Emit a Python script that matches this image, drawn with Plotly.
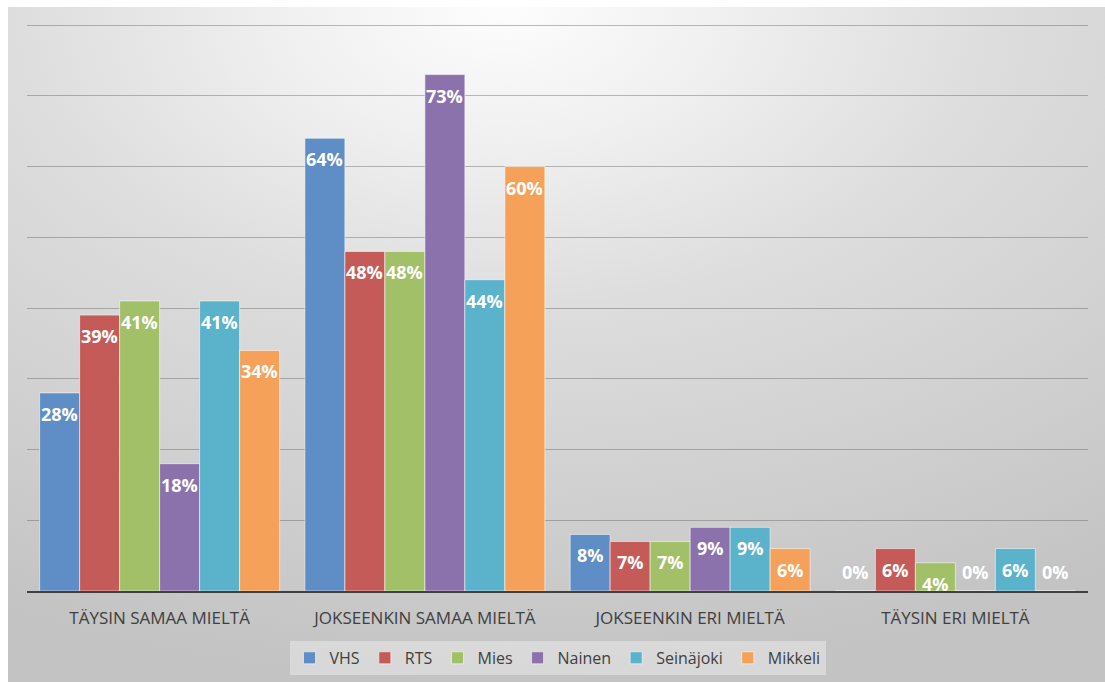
import base64
import plotly.graph_objects as go

# Survey answer categories (x axis) and respondent groups (series)
categories = ["TÄYSIN SAMAA MIELTÄ", "JOKSEENKIN SAMAA MIELTÄ",
              "JOKSEENKIN ERI MIELTÄ", "TÄYSIN ERI MIELTÄ"]
groups = ["VHS", "RTS", "Mies", "Nainen", "Seinäjoki", "Mikkeli"]

vhs = [28, 64, 8, 0]
rts = [39, 48, 7, 6]
mies = [41, 48, 7, 4]
nainen = [18, 73, 9, 0]
seinajoki = [41, 44, 9, 6]
mikkeli = [34, 60, 6, 0]

series = [vhs, rts, mies, nainen, seinajoki, mikkeli]
colors = ["#5f8dc5", "#c55b59", "#a2c068", "#8c72ac", "#5bb2cb", "#f5a15a"]

BAR_W = 0.1508  # width of one bar in category units; bars in a group touch

fig = go.Figure()
annotations = []
for j, (name, vals, col) in enumerate(zip(groups, series, colors)):
    xs = [i + (j - 2.5) * BAR_W for i in range(len(categories))]
    fig.add_trace(go.Bar(
        x=xs, y=vals, width=BAR_W, name=name,
        marker=dict(color=col, line=dict(color="rgba(255,255,255,0.55)", width=1)),
        hoverinfo="skip",
    ))
    for x, v in zip(xs, vals):
        annotations.append(dict(
            x=x, y=v, xref="x", yref="y", text=f"{v}%", showarrow=False,
            yanchor="middle", yshift=-21 if v > 0 else 19,
            font=dict(family="Open Sans", size=18, color="white", weight="bold"),
        ))

# Soft radial background behind the whole chart
svg = (
    '<svg xmlns="http://www.w3.org/2000/svg" width="1097" height="675" '
    'preserveAspectRatio="none"><defs>'
    '<radialGradient id="g" cx="0.45" cy="0" r="1" gradientUnits="objectBoundingBox">'
    '<stop offset="0" stop-color="#fdfdfd"/>'
    '<stop offset="0.2" stop-color="#f0f0f0"/>'
    '<stop offset="0.45" stop-color="#dddddd"/>'
    '<stop offset="0.75" stop-color="#cfcfcf"/>'
    '<stop offset="1" stop-color="#c3c3c3"/>'
    '</radialGradient></defs>'
    '<rect width="100%" height="100%" fill="url(#g)"/></svg>'
)
bg_src = "data:image/svg+xml;base64," + base64.b64encode(svg.encode()).decode()

PLOT_L, PLOT_R, PLOT_T, PLOT_B = 27, 1088, 24, 591
pw, ph = PLOT_R - PLOT_L, PLOT_B - PLOT_T

fig.update_layout(
    width=1105, height=682,
    margin=dict(l=PLOT_L, r=1105 - PLOT_R, t=PLOT_T, b=682 - PLOT_B, autoexpand=False),
    paper_bgcolor="white",
    plot_bgcolor="rgba(0,0,0,0)",
    barmode="overlay",
    showlegend=True,
    legend=dict(
        orientation="h", x=0.5, xanchor="center", y=-0.088, yanchor="top",
        bgcolor="rgba(255,255,255,0.35)",
        font=dict(family="Open Sans", size=16, color="#404040"),
        itemclick=False, itemdoubleclick=False,
    ),
    annotations=annotations,
    images=[dict(
        source=bg_src, xref="paper", yref="paper",
        x=(8 - PLOT_L) / pw, y=(PLOT_B - 7) / ph,
        sizex=1097 / pw, sizey=675 / ph,
        xanchor="left", yanchor="top", sizing="stretch", layer="below",
    )],
    xaxis=dict(
        range=[-0.5, 3.5], tickvals=list(range(len(categories))), ticktext=categories,
        showgrid=False, zeroline=False, showline=True, linecolor="#404040", linewidth=2,
        ticks="", ticklabelstandoff=11,
        tickfont=dict(family="Open Sans", size=17, color="#404040"),
        fixedrange=True,
    ),
    yaxis=dict(
        range=[0, 80.15], tick0=0, dtick=10, showticklabels=False, showgrid=True,
        gridcolor="rgba(90,90,90,0.4)", gridwidth=1, zeroline=False,
        fixedrange=True,
    ),
)

fig.write_html("out.html")
